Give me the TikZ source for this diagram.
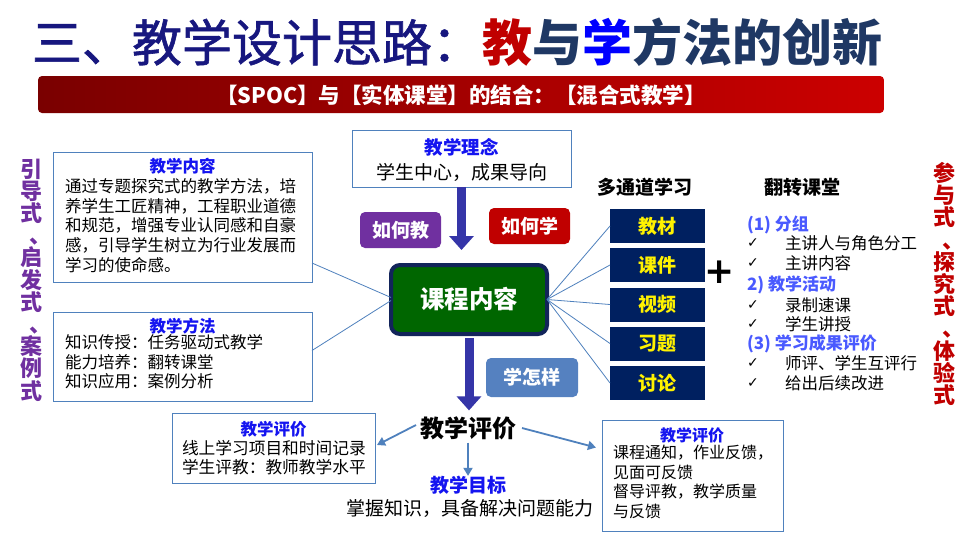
\documentclass[tikz,border=0pt]{standalone}
\usepackage{fontspec}
\newfontfamily\cjk{Noto Sans CJK SC}
\newfontfamily\cjkmed[FakeBold=1.2]{Noto Sans CJK SC}
\newfontfamily\symf{DejaVu Sans}
\usetikzlibrary{arrows.meta}
\definecolor{tblue}{HTML}{17177F}
\definecolor{titlenavy}{HTML}{1F3864}
\definecolor{dred}{HTML}{C00000}
\definecolor{purp}{HTML}{7030A0}
\definecolor{steel}{HTML}{4F81BD}
\definecolor{hblue}{HTML}{1414F0}
\definecolor{lblue}{HTML}{4A5AFF}
\definecolor{chnavy}{HTML}{002060}
\definecolor{cgreen}{HTML}{006600}
\definecolor{cborder}{HTML}{12245A}
\definecolor{arrowblue}{HTML}{3535A8}
\definecolor{barL}{HTML}{7A0000}
\definecolor{barR}{HTML}{CC0000}
\definecolor{tagsteel}{HTML}{5581C0}
\newcommand{\vcomma}{\makebox[22pt][l]{\hspace{9pt}、}}
\begin{document}
\begin{tikzpicture}[x=1pt,y=-1pt,
  every node/.style={inner sep=0pt, outer sep=0pt},
  framebox/.style={draw=steel, line width=1pt, fill=white},
  headtext/.style={font=\cjk\bfseries\fontsize{16.5}{19.6}\selectfont, text=hblue},
  bodytext/.style={font=\cjk\fontsize{16.5}{19.6}\selectfont, align=left, anchor=north west},
  tagbox/.style={rounded corners=5pt, text=white, font=\cjk\bfseries\fontsize{19}{19}\selectfont, minimum width=81pt, minimum height=36pt},
  chanbox/.style={fill=chnavy, text=yellow, font=\cjk\bfseries\fontsize{19}{19}\selectfont, minimum width=95pt, minimum height=34pt},
  link/.style={draw=steel, line width=0.8pt},
  fatarrow/.style={draw=arrowblue, line width=9pt, -{Triangle[width=24pt,length=14pt]}},
  evarrow/.style={draw=steel, line width=1.8pt, -{Triangle[width=9pt,length=8pt]}},
  vert/.style={font=\cjk\bfseries\fontsize{22}{22.2}\selectfont, align=center},
  listhead/.style={font=\cjk\bfseries\fontsize{17}{17}\selectfont, text=lblue, anchor=west},
  listitem/.style={font=\cjk\fontsize{16.5}{16.5}\selectfont, anchor=west},
  chk/.style={font=\symf\fontsize{14}{14}\selectfont, anchor=west}
]
\useasboundingbox (0,0) rectangle (968,542);
\fill[white] (0,0) rectangle (968,542);

% title
\node (title) at (457,42) {\fontsize{50}{50}\selectfont {\cjkmed\textcolor{tblue}{三、教学设计思路：}}{\cjk\bfseries\textcolor{dred}{教}\textcolor{titlenavy}{与}\textcolor{blue}{学}\textcolor{titlenavy}{方法的创新}}};

% bar
\node[rounded corners=4pt, left color=barL, right color=barR, minimum width=846pt, minimum height=37pt] (bar) at (461,94.5) {};
\node[text=white, font=\cjk\bfseries\fontsize{21.5}{21.5}\selectfont] (bartext) at (461,95) {【SPOC】与【实体课堂】的结合：【混合式教学】};

% vertical texts
\node[vert, text=purp] (leftv) at (31,280) {引\\导\\式\\\vcomma\\启\\发\\式\\\vcomma\\案\\例\\式};
\node[vert, text=dred] (rightv) at (944,284) {参\\与\\式\\\vcomma\\探\\究\\式\\\vcomma\\体\\验\\式};

% left boxes
\node[framebox, minimum width=259pt, minimum height=130pt] (contentbox) at (182.5,217) {};
\node[headtext] (contentT) at (182.5,166) {教学内容};
\node[bodytext] (contentB) at (65,178.7) {通过专题探究式的教学方法，培\\养学生工匠精神，工程职业道德\\和规范，增强专业认同感和自豪\\感，引导学生树立为行业发展而\\学习的使命感。};

\node[framebox, minimum width=259pt, minimum height=89pt] (methodbox) at (182.5,356.5) {};
\node[headtext] (methodT) at (182.5,326) {教学方法};
\node[bodytext] (methodB) at (65,334.7) {知识传授：任务驱动式教学\\能力培养：翻转课堂\\知识应用：案例分析};

% idea box
\node[framebox, minimum width=219pt, minimum height=57pt] (ideabox) at (461.5,158.5) {};
\node[headtext, font=\cjk\bfseries\fontsize{18.5}{18.5}\selectfont] (ideaT) at (461.5,147) {教学理念};
\node[font=\cjk\fontsize{19}{19}\selectfont] (ideaB) at (461.5,172) {学生中心，成果导向};

% tags
\node[tagbox, fill=purp] (howteach) at (400.5,230) {如何教};
\node[tagbox, fill=dred] (howlearn) at (529.5,226) {如何学};
\node[tagbox, fill=tagsteel, minimum width=92pt, minimum height=39pt] (howwell) at (532,377.5) {学怎样};

% course
\node[fill=cgreen, draw=cborder, line width=4pt, rounded corners=9pt, minimum width=156pt, minimum height=69pt, text=white, font=\cjk\bfseries\fontsize{24.5}{24.5}\selectfont] (course) at (469,299.5) {课程内容};

% evaluation center
\node[font=\cjk\bfseries\fontsize{24}{24}\selectfont] (evalC) at (468,428) {教学评价};

% fat arrows
\draw[fatarrow, shorten >=15pt] (ideabox.south) -- (ideabox.south |- course.north);
\draw[fatarrow, shorten <=4pt, shorten >=6pt] (course.south) -- (course.south |- evalC.north);

% links from left boxes
\draw[link] ([yshift=19pt]contentbox.south east) -- ([yshift=2pt]course.west);
\draw[link] ([yshift=6pt]methodbox.east) -- ([yshift=-1pt]course.west);

% channels
\node[font=\cjk\bfseries\fontsize{19}{19}\selectfont] (multiT) at (645,187) {多通道学习};
\node[chanbox] (ch1) at (657.5,226) {教材};
\node[chanbox] (ch2) at (657.5,265) {课件};
\node[chanbox] (ch3) at (657.5,304.5) {视频};
\node[chanbox] (ch4) at (657.5,343.5) {习题};
\node[chanbox] (ch5) at (657.5,383) {讨论};
\foreach \i in {1,...,5} \draw[link] (course.east) -- (ch\i.west);

\node[font=\symf\bfseries\fontsize{36}{36}\selectfont] (plus) at (720,272) {+};

% flipped classroom
\node[font=\cjk\bfseries\fontsize{19}{19}\selectfont] (flipT) at (802,187) {翻转课堂};
\node[listhead] (h1) at (747,225) {(1) 分组};
\node[chk] (k1) at (747,243) {✓};
\node[listitem] (i1) at (785,243) {主讲人与角色分工};
\node[chk] (k2) at (747,263) {✓};
\node[listitem] (i2) at (785,263) {主讲内容};
\node[listhead] (h2) at (747,285) {2) 教学活动};
\node[chk] (k3) at (747,305) {✓};
\node[listitem] (i3) at (785,305) {录制速课};
\node[chk] (k4) at (747,324) {✓};
\node[listitem] (i4) at (785,324) {学生讲授};
\node[listhead] (h3) at (747,344) {(3) 学习成果评价};
\node[chk] (k5) at (747,363) {✓};
\node[listitem] (i5) at (785,363) {师评、学生互评行};
\node[chk] (k6) at (747,383) {✓};
\node[listitem] (i6) at (785,383) {给出后续改进};

% evaluation boxes
\node[framebox, minimum width=203pt, minimum height=70pt] (evalL) at (273.5,448) {};
\node[headtext] (evalLT) at (273.5,429) {教学评价};
\node[bodytext, font=\cjk\fontsize{16.7}{19}\selectfont] (evalLB) at (182,440.6) {线上学习项目和时间记录\\学生评教：教师教学水平};

\node[framebox, minimum width=181pt, minimum height=111pt] (evalR) at (692.5,475.5) {};
\node[headtext, font=\cjk\bfseries\fontsize{16}{16}\selectfont] (evalRT) at (692,435) {教学评价};
\node[bodytext, font=\cjk\fontsize{16}{19.7}\selectfont] (evalRB) at (613,445) {课程通知，作业反馈，\\见面可反馈\\督导评教，教学质量\\与反馈};

\node[font=\cjk\bfseries\fontsize{19}{19}\selectfont, text=hblue] (goalT) at (468,485) {教学目标};
\node[font=\cjk\fontsize{19}{19}\selectfont] (goalB) at (470,508) {掌握知识，具备解决问题能力};

\draw[evarrow] ([xshift=-4pt,yshift=3pt]evalC.west) -- ([xshift=2pt,yshift=3pt]evalL.east);
\draw[evarrow] ([xshift=6pt]evalC.east) -- ([xshift=-6pt,yshift=28pt]evalR.west);
\draw[evarrow] ([yshift=-3pt]evalC.south) -- (goalT.north);
\end{tikzpicture}
\end{document}
